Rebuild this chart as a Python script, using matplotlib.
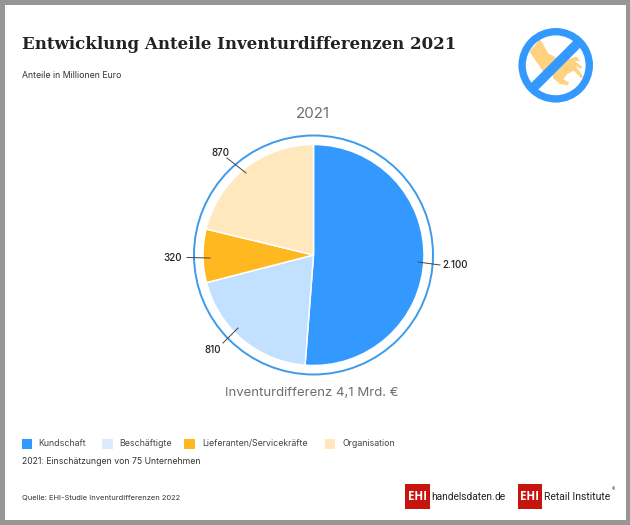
import matplotlib as mpl
mpl.use('Agg')

import numpy as np
import matplotlib.pyplot as plt
from matplotlib.patches import Rectangle, Circle, Polygon

categories = ['Kundschaft', 'Beschäftigte', 'Lieferanten/Servicekräfte', 'Organisation']
values = [2100, 810, 320, 870]
value_labels = ['2.100', '810', '320', '870']

colors = {'Kundschaft': '#3399FF',
          'Beschäftigte': '#C2E0FF',
          'Lieferanten/Servicekräfte': '#FFB81F',
          'Organisation': '#FFE8BD'}
legend_swatches = ['#3399FF', '#DCEBFC', '#FFB81F', '#FFE8BD']

text_color = '#333333'
grey_text = '#6E6E6E'
ring_color = '#3D9BE9'
ehi_red = '#C8140F'

W, H = 630, 525
CX, CY, R = 313.5, 255, 110.5

plt.rcParams['font.family'] = ['Inter', 'DejaVu Sans']

fig = plt.figure(figsize=(W / 100, H / 100), dpi=100, facecolor='white')

# Overlay in pixel coordinates, y going down like the reference
bg = fig.add_axes([0, 0, 1, 1])
bg.set_xlim(0, W)
bg.set_ylim(H, 0)
bg.axis('off')
bg.set_zorder(3)

# Grey frame around the whole graphic
frame_c = '#969696'
bg.add_patch(Rectangle((0, 0), W, 4.5, color=frame_c, lw=0))
bg.add_patch(Rectangle((0, 0), 4.5, H, color=frame_c, lw=0))
bg.add_patch(Rectangle((625.5, 0), 4.5, H, color=frame_c, lw=0))
bg.add_patch(Rectangle((0, 520), W, 5, color=frame_c, lw=0))

# Header
bg.text(22, 44.5, 'Entwicklung Anteile Inventurdifferenzen 2021', family='DejaVu Serif',
        weight='bold', fontsize=12.0, color='#222222', va='center', ha='left')
bg.text(22, 76, 'Anteile in Millionen Euro', fontsize=6.3, color=text_color, va='center')

# Pie
ax = fig.add_axes([(CX - 125) / W, 1 - (CY + 125) / H, 250 / W, 250 / H])
wedges, _ = ax.pie(values, colors=[colors[c] for c in categories], startangle=90,
                   counterclock=False, radius=R, center=(0, 0), frame=True,
                   wedgeprops={'edgecolor': 'white', 'linewidth': 1.1})
ax.set_xlim(-125, 125)
ax.set_ylim(-125, 125)
ax.axis('off')
ax.add_patch(Circle((0, 0), 119.5, fill=False, ec=ring_color, lw=1.4))

# Leader lines, from inside the slice to next to the label
leaders = [((418, 262), (440, 265)), ((238, 328), (223, 343)),
           ((210, 258), (187, 257.5)), ((246, 173), (227, 158))]
label_pos = [(455, 265), (213, 350), (173, 258), (220, 153)]
for (p0, p1), lab, pos in zip(leaders, value_labels, label_pos):
    bg.plot([p0[0], p1[0]], [p0[1], p1[1]], color='#444444', lw=0.7)
    bg.text(pos[0], pos[1], lab, fontsize=7.1, weight='medium', color='#222222',
            ha='center', va='center')

bg.text(313, 114, '2021', fontsize=10.8, color=grey_text, ha='center', va='center')
bg.text(312, 393, 'Inventurdifferenz 4,1 Mrd. €', fontsize=9.5, color=grey_text,
        ha='center', va='center')

# Legend
swatch_x = [21.5, 102, 184, 324.5]
label_x = [38, 119.5, 202, 342.5]
for c, sx, lx, fc in zip(categories, swatch_x, label_x, legend_swatches):
    bg.add_patch(Rectangle((sx, 438.5), 10.5, 10.5, color=fc, lw=0))
    bg.text(lx, 443.5, c, fontsize=6.35, color='#444444', va='center')
bg.text(21.5, 461.5, '2021: Einschätzungen von 75 Unternehmen', fontsize=6.25,
        color=text_color, va='center')
bg.text(21.5, 497.5, 'Quelle: EHI-Studie Inventurdifferenzen 2022', fontsize=5.4,
        color=text_color, va='center')

# Logos
for x0 in (405, 517.7):
    bg.add_patch(Rectangle((x0, 484), 24.5, 24.5, color=ehi_red, lw=0))
    bg.text(x0 + 12.2, 496.5, 'EHI', fontsize=8.4, weight='bold', color='white',
            ha='center', va='center', family='Open Sans')
bg.text(431.5, 497, 'handelsdaten', fontsize=7.3, color='#222222', va='center', family='Roboto')
bg.text(491.5, 497, '.', fontsize=7.3, color=ehi_red, va='center', family='Roboto')
bg.text(494.5, 497, 'de', fontsize=7.3, color='#222222', va='center', family='Roboto')
bg.text(544, 497, 'Retail Institute', fontsize=7.5, color='#222222', va='center', family='Roboto')
bg.text(613, 489.5, '®', fontsize=3.4, color='#222222', va='center', ha='center')

# Crossed out hand icon, points
IX, IY = 555.7, 65.3
hand_c = '#FFD27F'
arm = [(180, 118), (205, 160), (240, 180), (190, 215), (148, 155)]
hand = [(235, 190), (262, 178), (290, 170), (300, 183), (284, 183), (308, 202), (300, 206),
        (286, 197), (310, 230), (303, 234), (282, 212), (262, 222), (250, 238), (268, 248),
        (262, 256), (240, 252), (220, 235), (215, 215)]
for pts in (arm, hand):
    bg.add_patch(Polygon([(480 + x / 3, y / 3) for x, y in pts], closed=True, fc=hand_c,
                         ec='none', zorder=2))
bg.add_patch(Circle((IX, IY), 33.6, fill=False, ec='#3399FF', lw=5.3, zorder=3))
a = np.deg2rad(45)
bg.plot([IX - 33 * np.cos(a), IX + 33 * np.cos(a)], [IY + 33 * np.sin(a), IY - 33 * np.sin(a)],
        color='#3399FF', lw=7, zorder=3, solid_capstyle='butt')

fig.savefig('out.png', dpi=100)
